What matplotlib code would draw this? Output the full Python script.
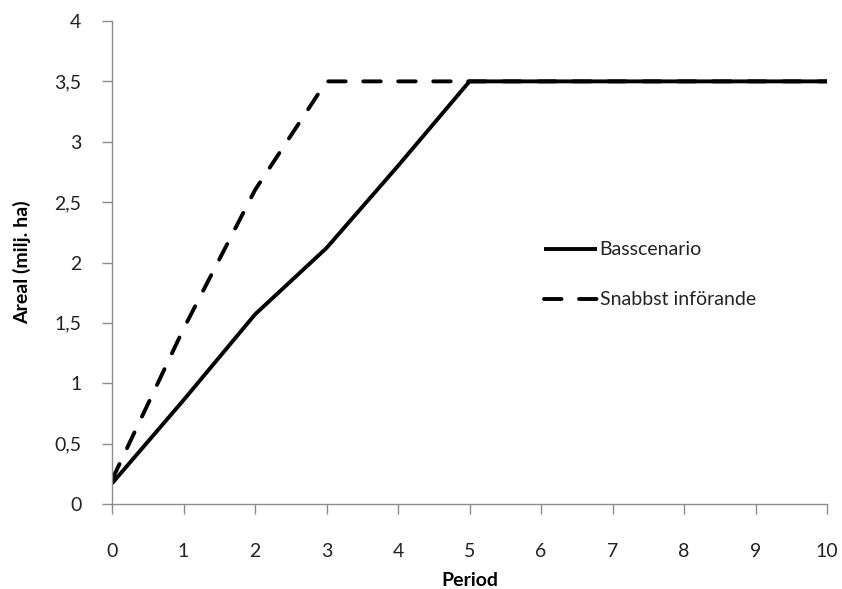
import matplotlib
matplotlib.use("Agg")
import matplotlib.pyplot as plt

plt.rcParams['font.family'] = ['Lato', 'DejaVu Sans']

period = [0, 1, 2, 3, 4, 5, 6, 7, 8, 9, 10]
basscenario = [0.17, 0.86, 1.57, 2.12, 2.80, 3.50, 3.50, 3.50, 3.50, 3.50, 3.50]
snabbst = [0.20, 1.45, 2.60, 3.50, 3.50, 3.50, 3.50, 3.50, 3.50, 3.50, 3.50]
y_ticks = [0, 0.5, 1, 1.5, 2, 2.5, 3, 3.5, 4]
y_labels = ["0", "0,5", "1", "1,5", "2", "2,5", "3", "3,5", "4"]

fig = plt.figure(figsize=(8.42, 5.89), dpi=100)
ax = fig.add_axes([112 / 842, 1 - 504 / 589, 715 / 842, 483 / 589])

ax.plot(period, snabbst, color='black', lw=2.8, ls=(0, (4.5, 4.5)),
        dash_capstyle='round', label='Snabbst införande')
ax.plot(period, basscenario, color='black', lw=2.8,
        solid_capstyle='butt', label='Basscenario')

ax.set_xlim(0, 10)
ax.set_ylim(0, 4)
ax.set_xticks(period)
ax.set_yticks(y_ticks)
ax.set_yticklabels(y_labels)

for side in ('top', 'right'):
    ax.spines[side].set_visible(False)
for side in ('left', 'bottom'):
    ax.spines[side].set_color('#8c8c8c')
    ax.spines[side].set_linewidth(1.0)
ax.tick_params(axis='both', direction='out', length=7, width=1.0,
               color='#8c8c8c', labelsize=14, labelcolor='#222222')
ax.tick_params(axis='x', pad=21)
ax.tick_params(axis='y', pad=15)

ax.set_xlabel('Period', fontsize=14, fontweight='bold', labelpad=9)
ax.set_ylabel('Areal (milj. ha)', fontsize=14, fontweight='bold', labelpad=17)

handles, labels = ax.get_legend_handles_labels()
ax.legend(handles[::-1], labels[::-1], loc='upper left',
          bbox_to_anchor=(0.58, 0.58), frameon=False, fontsize=14,
          handlelength=2.7, handletextpad=0.15, labelspacing=1.7,
          labelcolor='#222222')

fig.savefig('out.png', dpi=100)
